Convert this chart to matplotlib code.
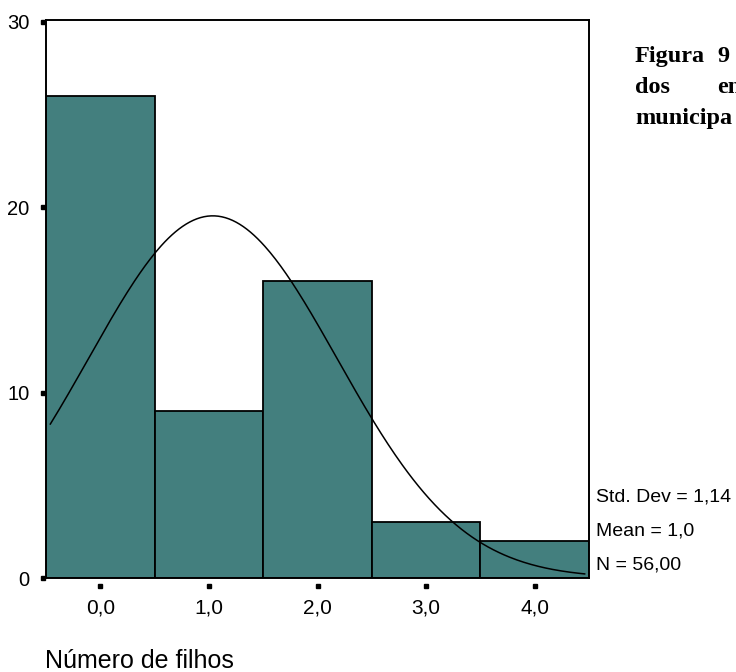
import numpy as np
import matplotlib
matplotlib.use("Agg")
import matplotlib.pyplot as plt
from matplotlib.transforms import blended_transform_factory, ScaledTranslation

# Data
values = [0, 1, 2, 3, 4]
counts = [26, 9, 16, 3, 2]
x_tick_labels = ["0,0", "1,0", "2,0", "3,0", "4,0"]
y_ticks = [0, 10, 20, 30]
y_tick_labels = ["0", "10", "20", "30"]
stats_lines = ["Std. Dev = 1,14", "Mean = 1,0", "N = 56,00"]
caption_words = [("Figura", 635, 62), ("9", 717, 62), ("dos", 635, 93), ("en", 717, 93),
                 ("municipa", 635, 124)]
x_label = "Número de filhos"

W, H = 736, 672
DPI = 100
fig = plt.figure(figsize=(W / DPI, H / DPI), dpi=DPI)
plt.rcParams['font.family'] = ['Liberation Sans', 'DejaVu Sans']

def px(x, y):
    return x / W, 1 - y / H

left, right, top, bottom = 46, 589, 20, 578
ax = fig.add_axes([left / W, 1 - bottom / H, (right - left) / W, (bottom - top) / H])

bar_color = "#437f7e"
ax.bar(values, counts, width=1.0, color=bar_color, edgecolor="black", linewidth=1.3, zorder=2)

# Fitted normal curve (from the data)
v = np.array(values, dtype=float)
c = np.array(counts, dtype=float)
n = c.sum()
mean = (v * c).sum() / n
sd = np.sqrt(((v - mean) ** 2 * c).sum() / (n - 1))
xs = np.linspace(-0.46, 4.46, 300)
ys = n * 1.0 * np.exp(-0.5 * ((xs - mean) / sd) ** 2) / (sd * np.sqrt(2 * np.pi))
ax.plot(xs, ys, color="black", linewidth=1.1, zorder=3)

ax.set_xlim(-0.5, 4.5)
ax.set_ylim(0, 30.1)
for s in ax.spines.values():
    s.set_linewidth(1.4)
    s.set_color("black")
    s.set_zorder(4)

ax.set_xticks(values)
ax.set_xticklabels(x_tick_labels)
ax.set_yticks(y_ticks)
ax.set_yticklabels(y_tick_labels)
ax.tick_params(axis="x", length=0, pad=15, labelsize=15)
ax.tick_params(axis="y", length=0, pad=12, labelsize=14.5)

# Square tick marks detached from the axis
ty = blended_transform_factory(ax.transAxes, ax.transData) + ScaledTranslation(-3 / DPI, 0, fig.dpi_scale_trans)
ax.plot([0] * len(y_ticks), y_ticks, linestyle="none", marker="s", markersize=3,
        color="black", transform=ty, clip_on=False)
tx = blended_transform_factory(ax.transData, ax.transAxes) + ScaledTranslation(0, -8 / DPI, fig.dpi_scale_trans)
ax.plot(values, [0] * len(values), linestyle="none", marker="s", markersize=3,
        color="black", transform=tx, clip_on=False)

# Stats text
for i, t in enumerate(stats_lines):
    fig.text(*px(596, 502 + 34 * i), t, fontsize=14, va="baseline", ha="left")

# X label
fig.text(*px(45, 668), x_label, fontsize=18, va="baseline", ha="left")

# Caption (justified text, clipped at right edge as in the source)
serif = dict(family=["Liberation Serif", "DejaVu Serif"], fontweight="bold", fontsize=17.5,
             va="baseline", ha="left")
for word, x, y in caption_words:
    fig.text(*px(x, y), word, **serif)

fig.savefig("out.png", dpi=DPI)
